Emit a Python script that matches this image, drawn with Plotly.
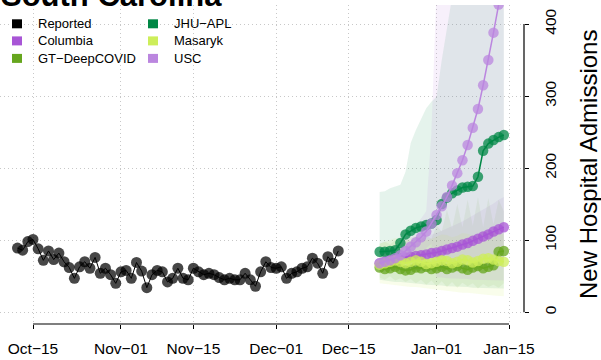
import datetime as dt
import pandas as pd
import plotly.graph_objects as go

# ---------------- data ----------------
reported_start = "2021-10-12"
reported_values = [89, 86, 98, 101, 88, 72, 85, 73, 82, 70, 62, 47, 63, 70, 61, 76, 54, 61, 52, 40,
                   56, 58, 47, 69, 57, 34, 52, 58, 56, 42, 47, 61, 47, 45, 61, 56, 52, 54, 52, 48,
                   45, 47, 45, 45, 54, 45, 36, 56, 70, 62,
                   61, 63, 47, 54, 56, 61, 63, 75, 68, 54, 77, 68, 85]

forecast_start = "2021-12-21"
columbia = [68, 70, 72, 74, 75, 76, 77, 78, 79, 80, 82, 83, 85, 87, 89, 91, 94, 96, 99, 102, 105, 108, 112, 115, 118]
gt_deepcovid = [62, 60, 61, 63, 60, 58, 59, 62, 61, 63, 60, 61, 63, 60, 62, 64, 61, 59, 62, 64, 61, 63, 65, 84, 85]
jhu_apl = [84, 84, 85, 86, 96, 108, 113, 117, 119, 121, 123, 128, 150, 159, 165, 169, 173, 174, 175, 188, 224, 234, 239, 243, 246]
masaryk = [66, 68, 70, 72, 70, 68, 70, 72, 70, 67, 68, 70, 72, 71, 68, 70, 73, 72, 69, 71, 74, 75, 73, 71, 70]
usc = [68, 70, 72, 75, 79, 85, 91, 97, 104, 112, 123, 135, 147, 160, 176, 193, 211, 232, 256, 282, 315, 350, 388, 427, 470]

columbia_lo = [56, 57, 58, 58, 58, 58, 57, 57, 57, 57, 57, 57, 57, 58, 58, 59, 60, 61, 62, 63, 64, 66, 68, 70, 72]
columbia_hi = [84, 87, 90, 93, 95, 97, 99, 101, 103, 105, 108, 110, 113, 116, 119, 122, 126, 130, 134, 138, 142, 146, 151, 156, 160]
gt_lo = [48, 45, 50, 44, 47, 42, 46, 40, 45, 38, 44, 36, 43, 35, 42, 34, 41, 36, 40, 33, 39, 35, 38, 34, 40]
gt_hi = [95, 98, 94, 100, 96, 102, 98, 104, 100, 106, 102, 120, 112, 142, 116, 150, 118, 156, 120, 160, 118, 158, 122, 156, 140]
jhu_lo = [45, 44, 43, 42, 42, 41, 40, 40, 39, 38, 38, 37, 37, 36, 36, 35, 35, 35, 34, 34, 34, 33, 33, 33, 33]
jhu_hi = [167, 168, 172, 174, 177, 195, 235, 253, 268, 283, 292, 299, 350, 400, 450, 500, 540, 580, 620, 660, 700, 740, 780, 820, 860]
masaryk_lo = [40, 39, 38, 38, 37, 36, 35, 35, 34, 33, 32, 31, 30, 30, 29, 28, 27, 27, 26, 25, 25, 24, 23, 22, 22]
masaryk_hi = [95, 97, 100, 103, 102, 100, 103, 106, 104, 100, 102, 105, 108, 107, 104, 106, 110, 109, 106, 108, 112, 113, 111, 109, 108]
usc_lo = [55, 56, 58, 60, 63, 67, 72, 77, 82, 88, 95, 48, 48, 47, 47, 46, 46, 46, 45, 45, 45, 44, 44, 44, 44]
usc_hi = [82, 85, 88, 92, 97, 104, 112, 120, 130, 140, 250, 600, 650, 700, 750, 800, 850, 900, 950, 1000, 1050, 1100, 1150, 1200, 1250]

tick_dates = ["2021-10-15", "2021-11-01", "2021-11-15", "2021-12-01", "2021-12-15", "2022-01-01", "2022-01-15"]
tick_labels = ["Oct\u221215", "Nov\u221201", "Nov\u221215", "Dec\u221201", "Dec\u221215", "Jan\u221201", "Jan\u221215"]
y_ticks = [0, 100, 200, 300, 400]

series = [
    ("Columbia", columbia, columbia_lo, columbia_hi, "#A855D6", 0.09),
    ("GT\u2212DeepCOVID", gt_deepcovid, gt_lo, gt_hi, "#66A61E", 0.08),
    ("JHU\u2212APL", jhu_apl, jhu_lo, jhu_hi, "#008745", 0.10),
    ("Masaryk", masaryk, masaryk_lo, masaryk_hi, "#CDEE5A", 0.12),
    ("USC", usc, usc_lo, usc_hi, "#BB86DF", 0.12),
]

# ---------------- layout constants ----------------
W, H = 601, 360
ML, MR, MT, MB = 0, 77, 5, 36
PW, PH = W - ML - MR, H - MT - MB
FONT = "Liberation Sans, Arial, sans-serif"

x_origin = pd.Timestamp("2021-10-15")
px_per_day = 5.174
x_range = [x_origin - pd.Timedelta(days=33 / px_per_day),
           x_origin + pd.Timedelta(days=(PW - 33) / px_per_day)]
y_range = [-16.4, 426.4]


def hexrgba(h, a):
    h = h.lstrip("#")
    return "rgba(%d,%d,%d,%.3f)" % (int(h[0:2], 16), int(h[2:4], 16), int(h[4:6], 16), a)


def xp(px):
    return (px - ML) / PW


def yp(py):
    return (H - MB - py) / PH


def date_paper(d):
    d = pd.Timestamp(d)
    return (d - x_range[0]) / (x_range[1] - x_range[0])


def val_paper(v):
    return (v - y_range[0]) / (y_range[1] - y_range[0])


rep_dates = pd.date_range(reported_start, periods=len(reported_values), freq="D")
fc_dates = pd.date_range(forecast_start, periods=len(usc), freq="D")

fig = go.Figure()

# fans
for name, vals, lo, hi, col, alpha in series:
    xs = list(fc_dates) + list(fc_dates[::-1])
    ys = list(hi) + list(lo[::-1])
    fig.add_trace(go.Scatter(x=xs, y=ys, fill="toself", fillcolor=hexrgba(col, alpha),
                             line=dict(width=0), mode="lines", hoverinfo="skip", showlegend=False))

# reported
fig.add_trace(go.Scatter(x=rep_dates, y=reported_values, mode="markers",
                         marker=dict(size=11, color="black", opacity=0.72, line=dict(width=0)),
                         showlegend=False))
fig.add_trace(go.Scatter(x=rep_dates, y=reported_values, mode="lines",
                         line=dict(color="black", width=1), showlegend=False))

# forecasts
for name, vals, lo, hi, col, alpha in series:
    fig.add_trace(go.Scatter(x=fc_dates, y=vals, mode="lines+markers",
                             line=dict(color=col, width=1.5),
                             marker=dict(size=10.5, color=col, opacity=0.75, line=dict(width=0)),
                             showlegend=False))

shapes = []
annotations = []

# axis lines (R style: from first to last tick)
shapes.append(dict(type="line", xref="paper", yref="paper",
                   x0=date_paper(tick_dates[0]), x1=date_paper(tick_dates[-1]), y0=0, y1=0,
                   line=dict(color="black", width=1.2)))
shapes.append(dict(type="line", xref="paper", yref="paper",
                   x0=1, x1=1, y0=val_paper(y_ticks[0]), y1=val_paper(y_ticks[-1]),
                   line=dict(color="black", width=1.2)))

# legend
legend_items = [("Reported", "#000000"), ("Columbia", "#A855D6"), ("GT\u2212DeepCOVID", "#66A61E"),
                ("JHU\u2212APL", "#008745"), ("Masaryk", "#CDEE5A"), ("USC", "#BB86DF")]
rows_y = [23.8, 40.9, 58.4]
cols_x = [(12, 36), (148, 172)]
for i, (lab, col) in enumerate(legend_items):
    cx, tx = cols_x[i // 3]
    ry = rows_y[i % 3]
    shapes.append(dict(type="rect", xref="paper", yref="paper",
                       x0=xp(cx), x1=xp(cx + 10), y0=yp(ry + 4.5), y1=yp(ry - 4.5),
                       fillcolor=col, line=dict(width=0)))
    annotations.append(dict(text=lab, xref="paper", yref="paper", x=xp(tx), y=yp(ry),
                            xanchor="left", yanchor="middle", showarrow=False,
                            font=dict(family=FONT, size=13, color="black")))

# title
annotations.append(dict(text="<b>South Carolina</b>", xref="paper", yref="paper",
                        x=xp(-1), y=yp(-4), xanchor="left", yanchor="middle", showarrow=False,
                        font=dict(family=FONT, size=31, color="black")))
# y axis title
annotations.append(dict(text="New Hospital Admissions", xref="paper", yref="paper",
                        x=xp(589), y=yp(165), xanchor="center", yanchor="middle", textangle=-90,
                        showarrow=False, font=dict(family=FONT, size=24, color="black")))

fig.update_layout(
    template="none",
    width=W, height=H, autosize=False,
    margin=dict(l=ML, r=MR, t=MT, b=MB, pad=0, autoexpand=False),
    paper_bgcolor="white", plot_bgcolor="white",
    showlegend=False,
    shapes=shapes, annotations=annotations,
    xaxis=dict(range=x_range, tickvals=pd.to_datetime(tick_dates), ticktext=tick_labels,
               automargin=False,
               showgrid=True, gridcolor="#c8c8c8", griddash="1px,3px", gridwidth=1,
               zeroline=False, showline=False, ticks="outside", ticklen=4, tickwidth=1,
               tickcolor="black", tickfont=dict(family=FONT, size=15.5, color="black"),
               ticklabelstandoff=6),
    yaxis=dict(range=y_range, side="right", tickvals=y_ticks, tickangle=-90,
               automargin=False,
               showgrid=True, gridcolor="#c8c8c8", griddash="1px,3px", gridwidth=1,
               zeroline=False, showline=False, ticks="outside", ticklen=4, tickwidth=1,
               tickcolor="black", tickfont=dict(family=FONT, size=15.5, color="black"),
               ticklabelstandoff=8),
)

fig.write_html("out.html", config={"displayModeBar": False},
               post_script="document.body.style.margin='0';document.body.style.overflow='hidden';")
